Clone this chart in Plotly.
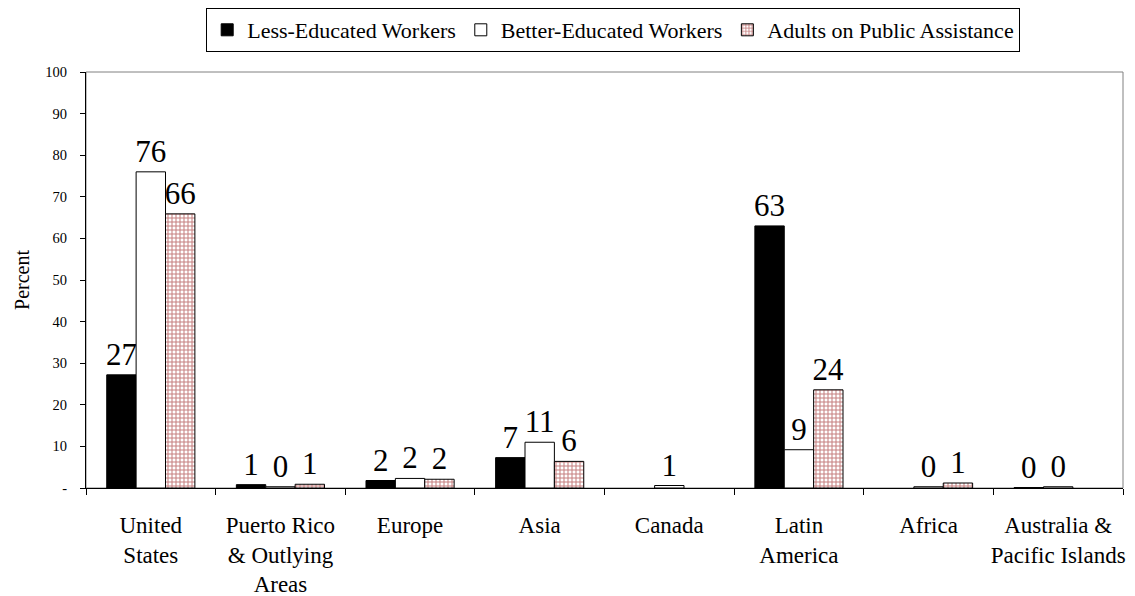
import plotly.graph_objects as go

categories = ["United<br>States", "Puerto Rico<br>& Outlying<br>Areas", "Europe", "Asia",
              "Canada", "Latin<br>America", "Africa", "Australia &<br>Pacific Islands"]
less_educated = [27.2, 0.8, 1.8, 7.3, None, 63.0, None, 0.1]
better_educated = [76.0, 0.3, 2.3, 11.0, 0.6, 9.2, 0.3, 0.3]
public_assistance = [65.9, 0.9, 2.1, 6.4, None, 23.6, 1.2, None]
series_names = ["Less-Educated Workers", "Better-Educated Workers", "Adults on Public Assistance"]
y_tickvals = [0, 10, 20, 30, 40, 50, 60, 70, 80, 90, 100]
y_ticktext = ["-", "10", "20", "30", "40", "50", "60", "70", "80", "90", "100"]

FONT = "Times New Roman, Liberation Serif, serif"


def labels(vals):
    return ["" if v is None else str(int(round(v))) for v in vals]


fig = go.Figure()
common = dict(textposition="outside", cliponaxis=False, constraintext="none",
              textfont=dict(family=FONT, size=31, color="black"))
fig.add_trace(go.Bar(name=series_names[0], x=categories, y=less_educated, text=labels(less_educated),
                     marker=dict(color="black", line=dict(color="black", width=1)), **common))
fig.add_trace(go.Bar(name=series_names[1], x=categories, y=better_educated, text=labels(better_educated),
                     marker=dict(color="white", line=dict(color="black", width=1)), **common))
fig.add_trace(go.Bar(name=series_names[2], x=categories, y=public_assistance, text=labels(public_assistance),
                     marker=dict(color="white", line=dict(color="black", width=1),
                                 pattern=dict(shape="+", fgcolor="#8b0000", bgcolor="white",
                                              size=4, solidity=0.45)), **common))

fig.update_layout(
    width=1127, height=588,
    margin=dict(l=78, r=12, t=64, b=108, autoexpand=False),
    paper_bgcolor="white", plot_bgcolor="white",
    barmode="group", bargap=0.32, bargroupgap=0,
    font=dict(family=FONT, color="black"),
    legend=dict(orientation="h", xref="container", yref="container", x=0.537, xanchor="center",
                y=1.0, yanchor="top", bordercolor="black", borderwidth=1,
                font=dict(family=FONT, size=22, color="black"), itemwidth=30,
                tracegroupgap=0, traceorder="normal", bgcolor="white"),
    xaxis=dict(showline=True, linecolor="black", linewidth=1, ticks="outside", tickson="boundaries",
               ticklen=6, tickcolor="black", tickangle=0, automargin=False, ticklabelstandoff=16,
               tickfont=dict(family=FONT, size=23, color="black"),
               showgrid=False, zeroline=False),
    yaxis=dict(range=[0, 100], tickvals=y_tickvals, ticktext=y_ticktext, showline=True,
               linecolor="black", linewidth=1, ticks="outside", ticklen=5, tickcolor="black",
               automargin=False, ticklabelstandoff=10,
               tickfont=dict(family=FONT, size=14.5, color="black"), showgrid=False, zeroline=False,
               title=dict(text="Percent", font=dict(family=FONT, size=20, color="black"), standoff=10)),
    shapes=[dict(type="rect", xref="paper", yref="paper", x0=0, x1=1, y0=0, y1=1,
                 line=dict(color="#808080", width=1), layer="below")],
)

fig.write_html("out.html")
